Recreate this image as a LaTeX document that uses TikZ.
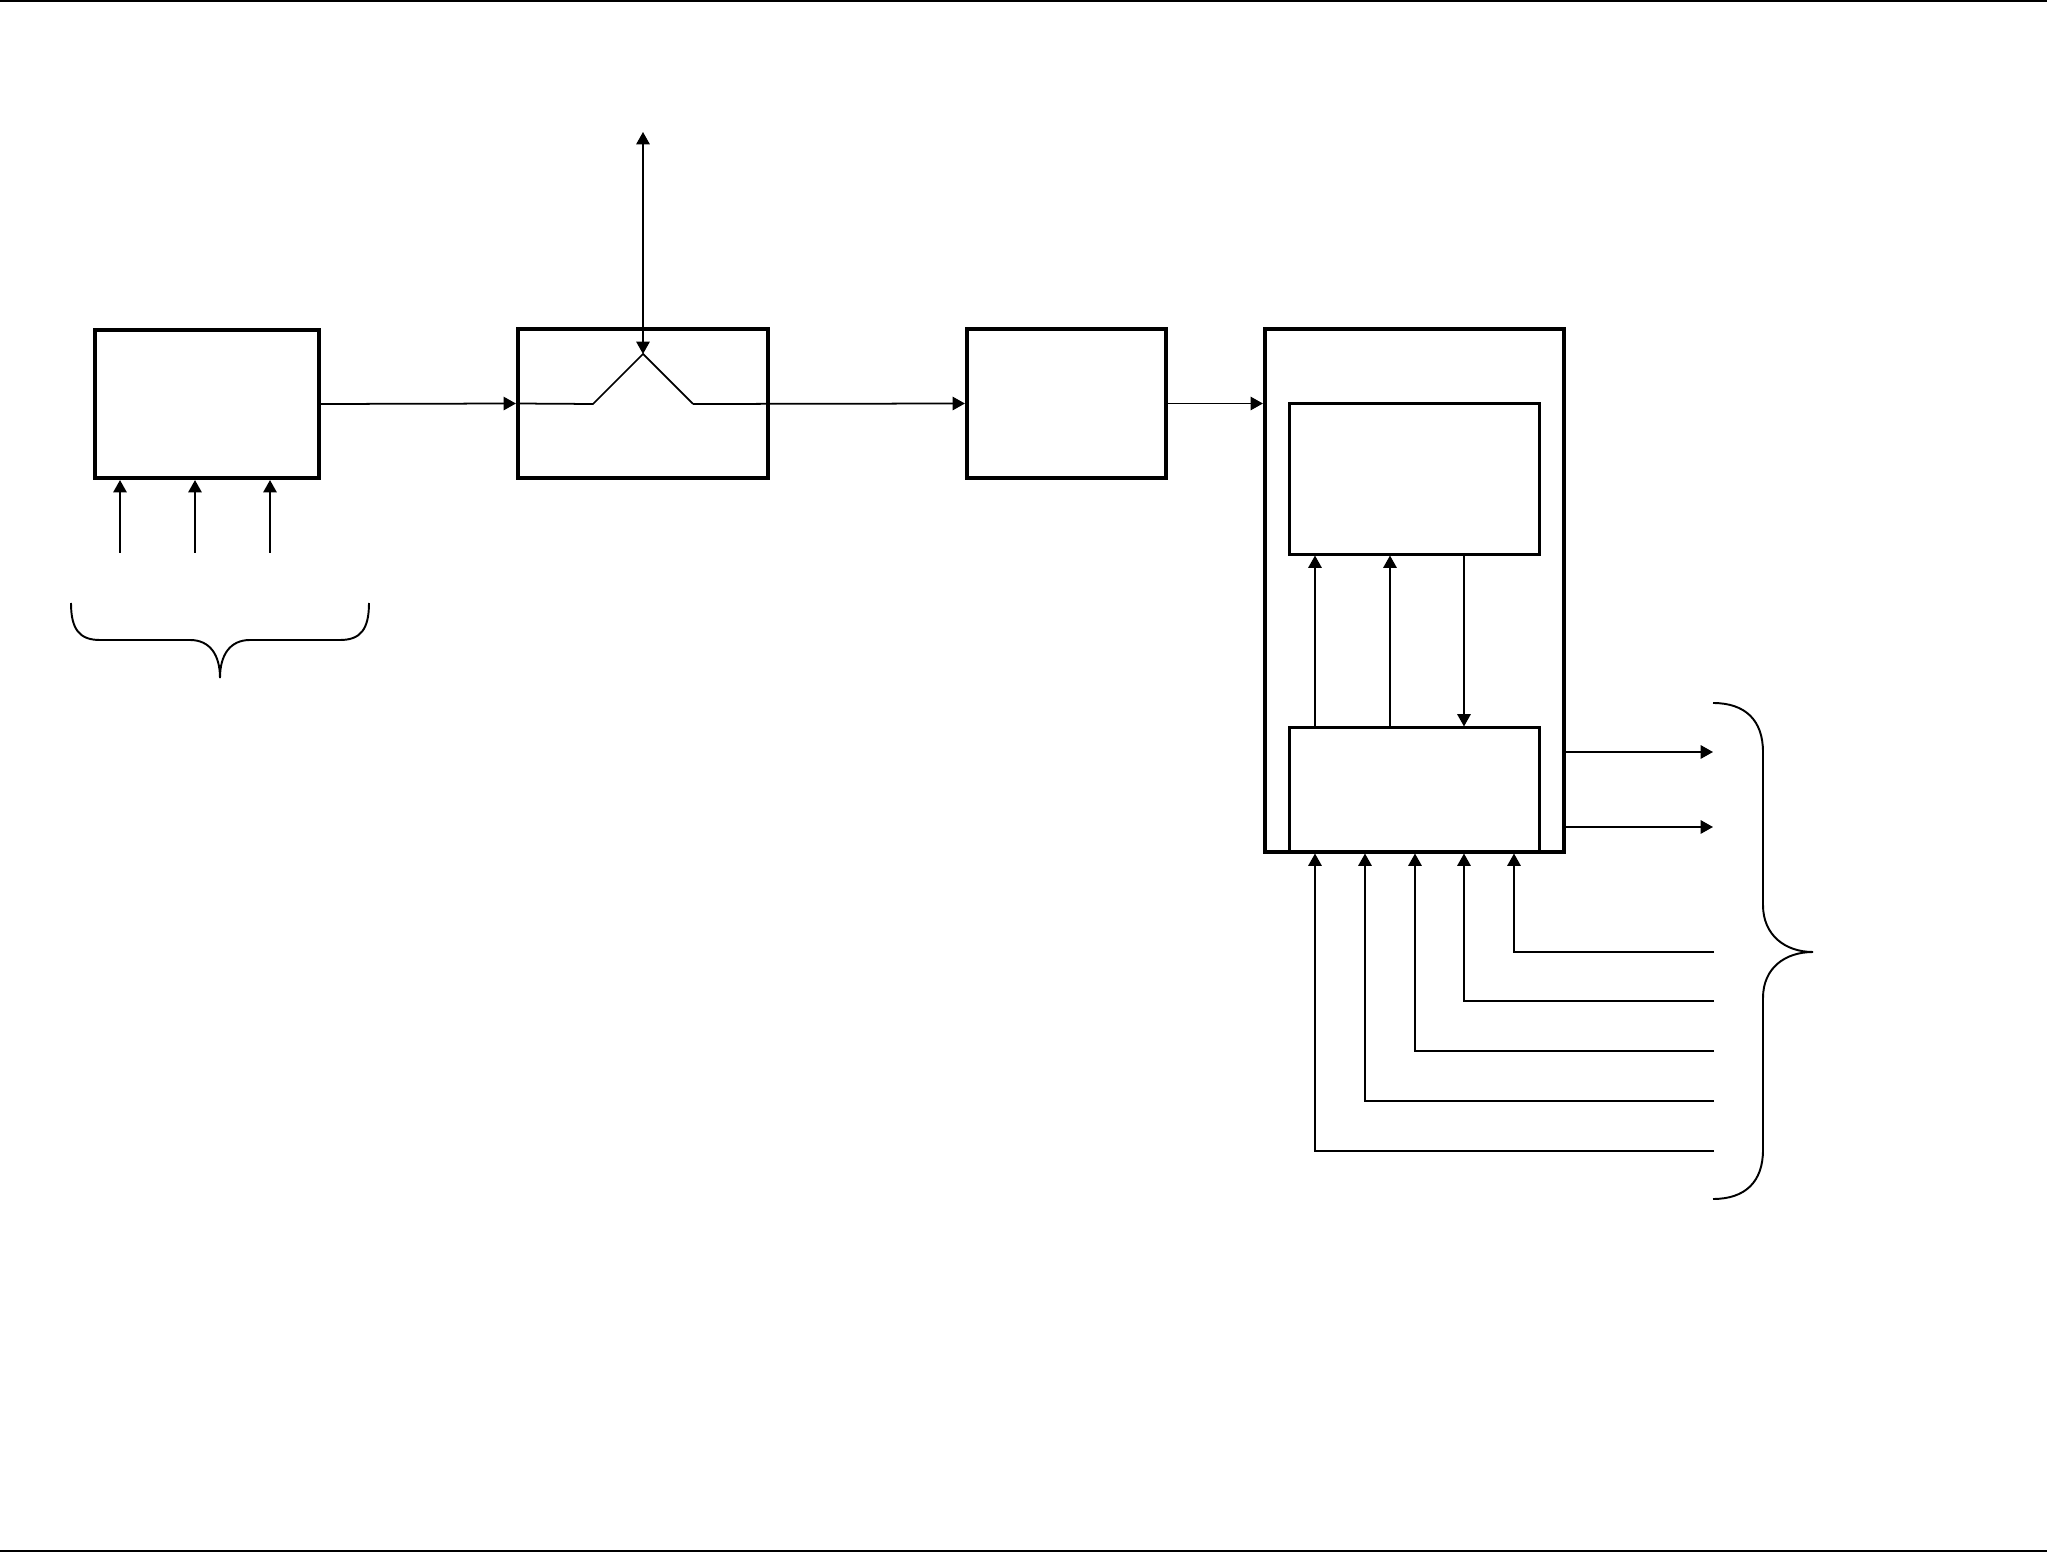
\documentclass[tikz,border=0pt]{standalone}
\usepackage{tikz}
\usetikzlibrary{arrows.meta,positioning,calc}

\begin{document}
\begin{tikzpicture}[x=0.01cm,y=-0.01cm,
  block/.style={rectangle,draw=black,line width=1.15pt,inner sep=0pt},
  subblock/.style={rectangle,draw=black,line width=0.85pt,inner sep=0pt},
  conn/.style={draw=black,line width=0.5pt},
  brace/.style={draw=black,line width=0.55pt},
  >={Triangle[length=3.5pt,width=3.8pt]}
]
\useasboundingbox (0,0) rectangle (2047,1552);
\draw[line width=0.6pt] (0,1) -- (2047,1);
\draw[line width=0.6pt] (0,1551) -- (2047,1551);

\node[block,minimum width=2.24cm,minimum height=1.48cm] (src) at (207,404) {};
\node[block,minimum width=2.50cm,minimum height=1.49cm] (sw) at (643,403.5) {};
\node[block,minimum width=1.99cm,minimum height=1.49cm] (proc) at (1066.5,403.5) {};
\node[block,minimum width=2.99cm,minimum height=5.23cm] (unit) at (1414.5,590.5) {};
\node[subblock,minimum width=2.49cm,minimum height=1.50cm] (upper) at (1414.5,479) {};
\node[subblock,minimum width=2.49cm,minimum height=1.24cm] (lower) at (1414.5,790) {};

% switch
\coordinate (swL) at (593,404);
\coordinate (pivot) at (643,354);
\coordinate (swR) at (693,404);
\coordinate (ext) at (643,132);
\draw[conn,->] (src.east) -- (sw.west);
\draw[conn] (sw.west) -- (swL) -- (pivot) -- (swR);
\draw[conn,->] (swR) -- (proc.west);
\draw[conn,<->] (ext) -- (pivot);
\draw[conn,->] (proc.east) -- (proc.east -| unit.west);

\foreach \x in {120,195,270}
  \draw[conn,->] (\x,553) -- (\x,0 |- src.south);

\draw[brace] (71,603) .. controls (71,630) and (80,640) .. (100,640) -- (190,640)
  .. controls (210,640) and (220,655) .. (220,678)
  .. controls (220,655) and (230,640) .. (250,640) -- (340,640)
  .. controls (360,640) and (369,630) .. (369,603);

\foreach \x in {1315,1390}
  \draw[conn,->] (\x,0 |- lower.north) -- (\x,0 |- upper.south);
\draw[conn,->] (1464,0 |- upper.south) -- (1464,0 |- lower.north);

\foreach \y in {752,827}
  \draw[conn,->] (unit.east |- 0,\y) -- (1713,\y);

\foreach \x/\y in {1514/952,1464/1001,1415/1051,1365/1101,1315/1151}
  \draw[conn,->] (1714,\y) -- (\x,\y) -- (\x,0 |- lower.south);

\draw[brace] (1713,703) .. controls (1745,703) and (1763,720) .. (1763,752) -- (1763,905)
  .. controls (1763,935) and (1785,952) .. (1813,952)
  .. controls (1785,952) and (1763,968) .. (1763,998) -- (1763,1150)
  .. controls (1763,1182) and (1745,1199) .. (1713,1199);
\end{tikzpicture}
\end{document}
